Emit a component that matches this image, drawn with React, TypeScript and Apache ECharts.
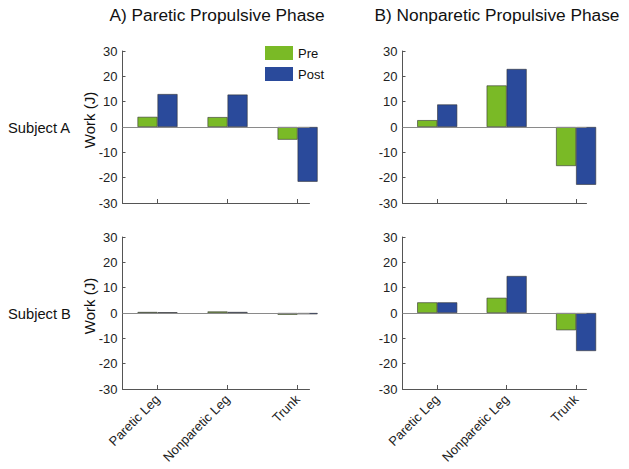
import React, { useEffect, useRef } from "react";
import * as echarts from "echarts";

const categories = ["Paretic Leg", "Nonparetic Leg", "Trunk"];
const panelTitles = ["A) Paretic Propulsive Phase", "B) Nonparetic Propulsive Phase"];
const subjects = ["Subject A", "Subject B"];
const yAxisTitle = "Work (J)";
const yTicks = [-30, -20, -10, 0, 10, 20, 30];

// Subject A
const aPareticPre = [4.0, 3.9, -5.0];
const aPareticPost = [13.0, 12.8, -21.6];
const aNonpareticPre = [2.7, 16.4, -15.4];
const aNonpareticPost = [8.9, 22.9, -22.8];
// Subject B
const bPareticPre = [0.4, 0.6, -0.7];
const bPareticPost = [0.3, 0.4, -0.5];
const bNonpareticPre = [4.2, 6.0, -6.8];
const bNonpareticPost = [4.2, 14.6, -15.0];

const GREEN = "#7aba26";
const BLUE = "#2a4a9b";

export default function App() {
  const ref = useRef<HTMLDivElement>(null);
  useEffect(() => {
    if (!ref.current) return;
    const chart = echarts.init(ref.current, null, { renderer: "svg" });

    const panels = [
      { pre: aPareticPre, post: aPareticPost, left: 122.5, top: 51, width: 187, max: 3.17, leftCol: true, bottom: false },
      { pre: aNonpareticPre, post: aNonpareticPost, left: 402.5, top: 51, width: 184, max: 3.15, leftCol: false, bottom: false },
      { pre: bPareticPre, post: bPareticPost, left: 122.5, top: 237, width: 187, max: 3.17, leftCol: true, bottom: true },
      { pre: bNonpareticPre, post: bNonpareticPost, left: 402.5, top: 237, width: 184, max: 3.15, leftCol: false, bottom: true },
    ];

    const tickIdx = categories.map((_, i) => i + 1);
    const font = "Liberation Sans, Arial, Helvetica, sans-serif";

    const grid = panels.map((p) => ({ left: p.left, top: p.top, width: p.width, height: 152 }));
    const xAxis = panels.map((p, i) => ({
      type: "value",
      gridIndex: i,
      min: 0.5,
      max: p.max,
      axisLine: { show: true, onZero: false, lineStyle: { color: "#555", width: 1 } },
      axisTick: { show: true, inside: true, length: 4, customValues: tickIdx, lineStyle: { color: "#555" } },
      axisLabel: {
        show: p.bottom,
        customValues: tickIdx,
        formatter: (v: number) => categories[Math.round(v) - 1] ?? "",
        rotate: 45,
        margin: 8,
        fontSize: 13,
        color: "#222",
        fontFamily: font,
      },
      splitLine: { show: false },
    }));
    const yAxis = panels.map((p, i) => ({
      type: "value",
      gridIndex: i,
      min: yTicks[0],
      max: yTicks[yTicks.length - 1],
      interval: 10,
      axisLine: { show: true, onZero: false, lineStyle: { color: "#555", width: 1 } },
      axisTick: { show: true, inside: true, length: 3, lineStyle: { color: "#555" } },
      axisLabel: { fontSize: 13, color: "#222", margin: 5, fontFamily: font },
      splitLine: { show: false },
    }));

    const series: any[] = [];
    panels.forEach((p, i) => {
      series.push({
        type: "bar",
        name: "Pre",
        xAxisIndex: i,
        yAxisIndex: i,
        barWidth: 20,
        barGap: "0%",
        data: p.pre.map((v, k) => [k + 1, v]),
        itemStyle: { color: GREEN, borderColor: "#333", borderWidth: 0.6 },
        markLine: {
          silent: true,
          symbol: "none",
          label: { show: false },
          lineStyle: { color: "#8a8a8a", type: "solid", width: 1 },
          data: [{ yAxis: 0 }],
        },
      });
      series.push({
        type: "bar",
        name: "Post",
        xAxisIndex: i,
        yAxisIndex: i,
        barWidth: 20,
        barGap: "0%",
        data: p.post.map((v, k) => [k + 1, v]),
        itemStyle: { color: BLUE, borderColor: "#333", borderWidth: 0.6 },
      });
    });

    const txt = (text: string, x: number, y: number, size: number, extra: any = {}) => ({
      type: "text",
      x,
      y,
      ...extra,
      style: { text, fontSize: size, fontFamily: font, fill: "#111", align: "center", verticalAlign: "middle", ...(extra.style || {}) },
    });

    chart.setOption({
      animation: false,
      backgroundColor: "#fff",
      textStyle: { fontFamily: font },
      graphic: [
        txt(panelTitles[0], 217, 15, 17.3),
        txt(panelTitles[1], 497, 15, 17.3),
        txt(subjects[0], 8, 128, 14.7, { style: { align: "left" } }),
        txt(subjects[1], 8, 314, 14.7, { style: { align: "left" } }),
        txt(yAxisTitle, 89, 120, 15, { rotation: Math.PI / 2 }),
        txt(yAxisTitle, 89, 306, 15, { rotation: Math.PI / 2 }),
      ],
      legend: {
        data: ["Pre", "Post"],
        orient: "vertical",
        left: 260,
        top: 41,
        itemWidth: 28,
        itemHeight: 14,
        itemGap: 7,
        icon: "rect",
        itemStyle: { borderWidth: 0 },
        textStyle: { fontSize: 13, color: "#111", fontFamily: font },
      },
      grid,
      xAxis,
      yAxis,
      series,
    });
    return () => chart.dispose();
  }, []);
  return <div ref={ref} style={{ position: "absolute", left: 0, top: 0, width: 629, height: 469 }} />;
}
